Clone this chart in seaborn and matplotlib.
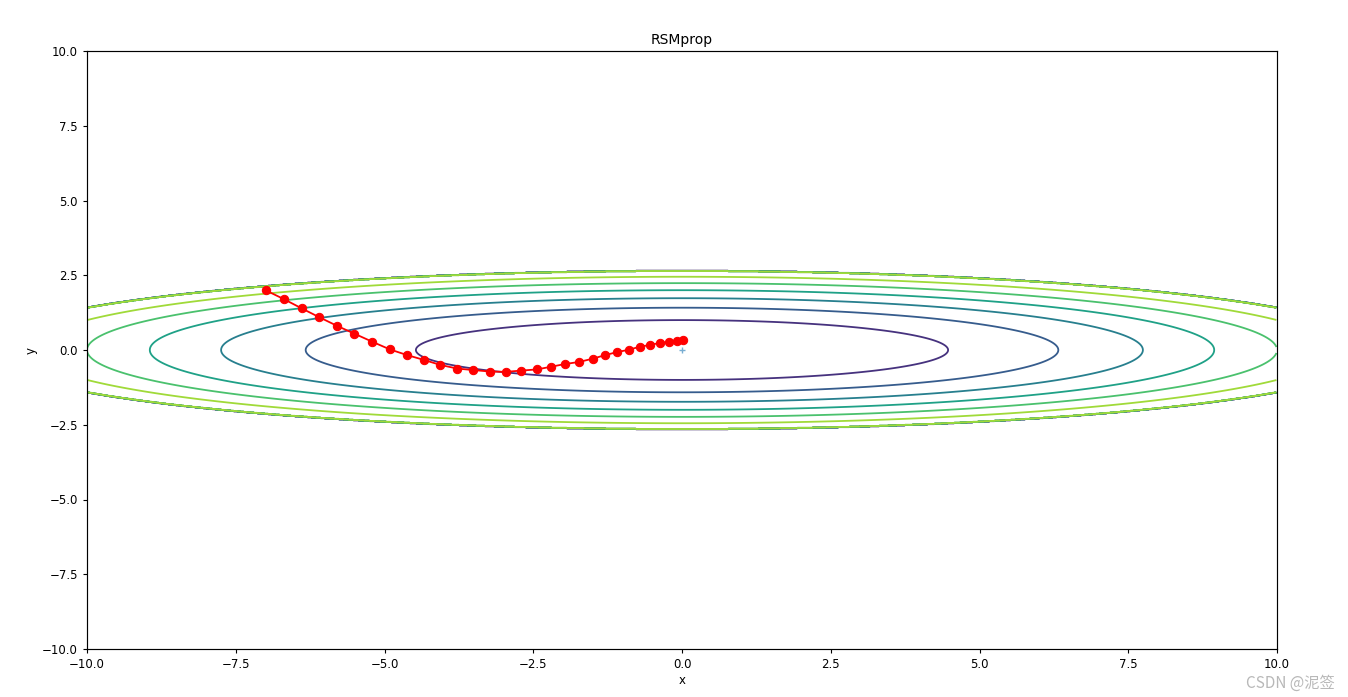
import numpy as np
import matplotlib
matplotlib.use("Agg")
import matplotlib.pyplot as plt
import seaborn as sns
import pandas as pd

# optimisation path
path_x = [-7.00, -6.69, -6.39, -6.10, -5.80, -5.51, -5.21, -4.91, -4.62, -4.34,
          -4.06, -3.78, -3.51, -3.23, -2.96, -2.71, -2.44, -2.20, -1.97, -1.73,
          -1.50, -1.29, -1.09, -0.89, -0.71, -0.53, -0.37, -0.22, -0.09, 0.02]
path_y = [2.00, 1.70, 1.39, 1.10, 0.81, 0.55, 0.28, 0.02, -0.17, -0.33,
          -0.50, -0.62, -0.67, -0.72, -0.73, -0.69, -0.65, -0.56, -0.47, -0.40,
          -0.29, -0.17, -0.07, 0.01, 0.11, 0.17, 0.24, 0.27, 0.30, 0.33]

# contour surface f(x, y) = x^2/20 + y^2, values above 7 cleared
coef_x = 1.0 / 20.0
coef_y = 1.0
clip_value = 7
grid_x = np.arange(-10, 10, 0.01)
grid_y = np.arange(-5, 5, 0.01)

title = "RSMprop"

plt.rcParams.update({
    "font.size": 8.5,
    "axes.titlesize": 10,
    "axes.labelsize": 8.5,
    "xtick.labelsize": 8.5,
    "ytick.labelsize": 8.5,
    "xtick.major.size": 3,
    "ytick.major.size": 3,
    "axes.linewidth": 0.85,
})

fig = plt.figure(figsize=(13.48, 6.97), dpi=100)
ax = fig.add_axes([87 / 1348, 1 - 649 / 697, (1277 - 87) / 1348, (649 - 51) / 697])

X, Y = np.meshgrid(grid_x, grid_y)
Z = coef_x * X ** 2 + coef_y * Y ** 2
Z[Z > clip_value] = 0
ax.contour(X, Y, Z, linewidths=1.3)

df = pd.DataFrame({"x": path_x, "y": path_y})
sns.lineplot(data=df, x="x", y="y", sort=False, estimator=None, color="red",
             marker="o", markersize=6, markeredgecolor="red", linewidth=1.3, ax=ax)
ax.plot(0, 0, "+", color="#1f77b4", alpha=0.6, markersize=5)

ax.set_xlim(-10, 10)
ax.set_ylim(-10, 10)
ax.set_xticks(np.arange(-10, 10.1, 2.5))
ax.set_yticks(np.arange(-10, 10.1, 2.5))
ax.set_xlabel("x", labelpad=2)
ax.set_ylabel("y", labelpad=3)
ax.set_title(title, pad=5)

fig.text(0.99, 0.008, "CSDN @泥签", ha="right", va="bottom", color="#b8b8b8",
         fontsize=11, family=["Noto Sans CJK SC", "DejaVu Sans"])

fig.savefig("out.png", dpi=100)
